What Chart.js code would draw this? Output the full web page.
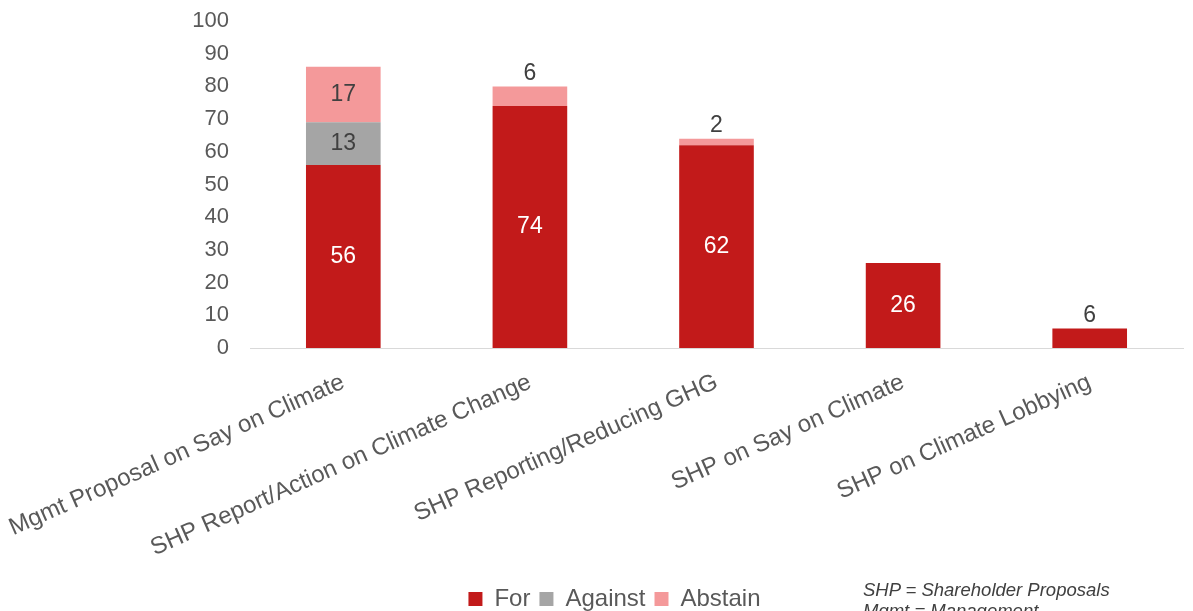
<!DOCTYPE html>
<html>
<head>
<meta charset="utf-8">
<script src="https://cdn.jsdelivr.net/npm/chart.js@4/dist/chart.umd.min.js"></script>
<style>
  html, body { margin: 0; padding: 0; background: #fff; overflow: hidden; }
  #wrap { position: relative; width: 1193px; height: 611px; overflow: hidden; }
  #note {
    position: absolute; left: 863px; top: 579px;
    font-family: "Liberation Sans", Arial, sans-serif; font-style: italic;
    font-size: 18.5px; line-height: 21px; color: #404040; white-space: nowrap;
  }
</style>
</head>
<body>
<div id="wrap">
  <canvas id="voteChart" width="1193" height="611"></canvas>
  <div id="note">SHP = Shareholder Proposals<br>Mgmt = Management</div>
</div>
<script>
// Vote support by proposal type (%)
const categories = [
  'Mgmt Proposal on Say on Climate',
  'SHP Report/Action on Climate Change',
  'SHP Reporting/Reducing GHG',
  'SHP on Say on Climate',
  'SHP on Climate Lobbying'
];
const forVotes = [56, 74, 62, 26, 6];
const againstVotes = [13, 0, 0, 0, 0];
const abstainVotes = [17, 6, 2, 0, 0];
const yTicks = [0, 10, 20, 30, 40, 50, 60, 70, 80, 90, 100];

const FONT = '"Liberation Sans", Arial, sans-serif';
const TEXT = '#595959';

// value labels: inside the segment when it is tall enough, above it otherwise
const segmentLabels = {
  id: 'segmentLabels',
  afterDatasetsDraw(chart) {
    const ctx = chart.ctx;
    ctx.save();
    ctx.font = '23px ' + FONT;
    ctx.textAlign = 'center';
    ctx.textBaseline = 'middle';
    chart.data.datasets.forEach((ds, di) => {
      const meta = chart.getDatasetMeta(di);
      meta.data.forEach((bar, i) => {
        const v = ds.data[i];
        if (!v) return;
        const top = Math.min(bar.y, bar.base);
        const h = Math.abs(bar.base - bar.y);
        if (h > 30) {
          ctx.fillStyle = di === 0 ? '#ffffff' : '#404040';
          ctx.fillText(v, bar.x, top + h / 2);
        } else {
          ctx.fillStyle = '#404040';
          ctx.fillText(v, bar.x, top - 13);
        }
      });
    });
    ctx.restore();
  }
};

new Chart(document.getElementById('voteChart'), {
  type: 'bar',
  data: {
    labels: categories,
    datasets: [
      { label: 'For', data: forVotes, backgroundColor: '#C21A1A' },
      { label: 'Against', data: againstVotes, backgroundColor: '#A5A5A5' },
      { label: 'Abstain', data: abstainVotes, backgroundColor: '#F4999A' }
    ]
  },
  options: {
    responsive: false,
    animation: false,
    layout: { padding: { top: 21, right: 10, left: 46, bottom: -10 } },
    datasets: { bar: { barPercentage: 0.4, categoryPercentage: 1.0 } },
    scales: {
      x: {
        stacked: true,
        grid: { display: false },
        border: { color: '#D9D9D9', width: 1 },
        ticks: {
          color: TEXT, font: { family: FONT, size: 24 },
          minRotation: 24, maxRotation: 24, padding: 12
        },
        afterFit(axis) {
          axis.height = 230;
          axis.paddingLeft = 0;
          axis.paddingRight = 0;
        }
      },
      y: {
        stacked: true,
        min: 0, max: 100,
        afterBuildTicks(axis) { axis.ticks = yTicks.map(v => ({ value: v })); },
        grid: { display: false },
        border: { display: false },
        ticks: { color: TEXT, font: { family: FONT, size: 22 }, padding: 13 },
        afterFit(axis) {
          axis.width = 204;
          axis.paddingTop = 0;
          axis.paddingBottom = 0;
        }
      }
    },
    plugins: {
      legend: {
        position: 'bottom',
        labels: {
          color: TEXT, font: { family: FONT, size: 24 },
          boxWidth: 14, boxHeight: 14, padding: 9
        }
      },
      tooltip: { enabled: false }
    }
  },
  plugins: [segmentLabels]
});
</script>
</body>
</html>
